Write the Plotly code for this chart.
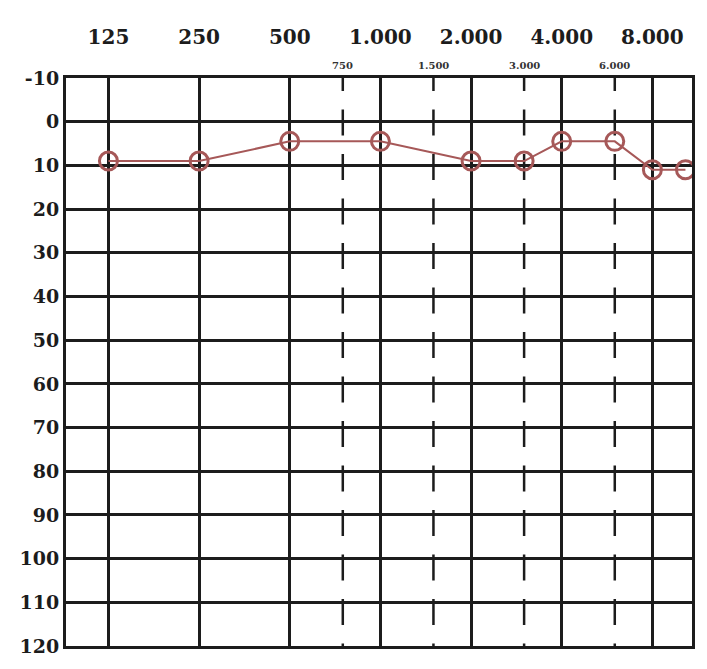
import math
import plotly.graph_objects as go

# Audiogram: hearing threshold (dB HL) by test frequency (Hz)
freqs = [125, 250, 500, 1000, 2000, 3000, 4000, 6000, 8000, 10300]
levels = [9, 9, 4.5, 4.5, 9, 9, 4.5, 4.5, 11, 11]

octave_freqs = [125, 250, 500, 1000, 2000, 4000, 8000]
octave_labels = ["125", "250", "500", "1.000", "2.000", "4.000", "8.000"]
mid_freqs = [750, 1500, 3000, 6000]
mid_labels = ["750", "1.500", "3.000", "6.000"]
db_ticks = list(range(-10, 121, 10))

X_RANGE = [1.956, 4.0346]
Y_RANGE = [120, -10]
INK = "#1c1c1c"
SERIF = "DejaVu Serif"

fig = go.Figure()

fig.add_trace(go.Scatter(
    x=freqs, y=levels,
    mode="lines+markers",
    line=dict(color="#a65858", width=2),
    marker=dict(symbol="circle-open", size=18,
                line=dict(color="#b01e1e", width=3)),
    showlegend=False, hoverinfo="x+y",
))

# dashed inter-octave lines
shapes = []
for f in mid_freqs:
    shapes.append(dict(
        type="line", xref="x", yref="y",
        x0=f, x1=f, y0=-13, y1=123,
        line=dict(color=INK, width=2.5, dash="26px,18.5px"),
        layer="below",
    ))

annotations = []
for f, lab in zip(mid_freqs, mid_labels):
    annotations.append(dict(
        x=math.log10(f), y=1, xref="x", yref="paper",
        text=lab, showarrow=False, yanchor="middle", yshift=13,
        font=dict(family=SERIF, size=10, color="#333333", weight="bold"),
    ))

fig.update_layout(
    width=707, height=669,
    margin=dict(l=66, r=14, t=78, b=12),
    paper_bgcolor="white", plot_bgcolor="white",
    shapes=shapes, annotations=annotations,
    xaxis=dict(
        type="log", range=X_RANGE, side="top",
        tickmode="array", tickvals=octave_freqs, ticktext=octave_labels,
        ticks="outside", ticklen=23, tickcolor="rgba(0,0,0,0)",
        tickfont=dict(family=SERIF, size=20, color=INK, weight="bold"),
        showgrid=True, gridcolor=INK, gridwidth=2.5,
        showline=True, linecolor=INK, linewidth=3, mirror=True,
        zeroline=False,
    ),
    yaxis=dict(
        range=Y_RANGE,
        tickmode="array", tickvals=db_ticks,
        ticktext=[str(v) for v in db_ticks],
        ticks="", 
        tickfont=dict(family=SERIF, size=19, color=INK, weight="bold"),
        showgrid=True, gridcolor=INK, gridwidth=2.5,
        showline=True, linecolor=INK, linewidth=3, mirror=True,
        zeroline=False,
    ),
)

fig.write_html("out.html")
